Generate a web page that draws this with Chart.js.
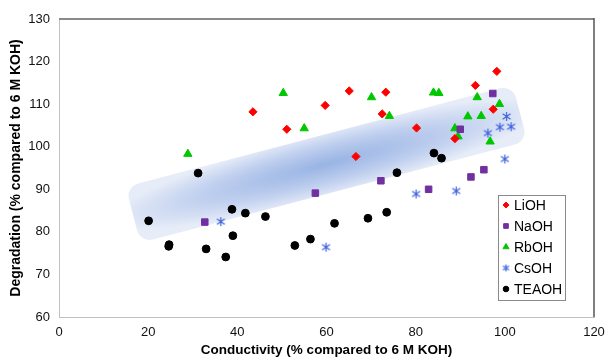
<!DOCTYPE html>
<html>
<head>
<meta charset="utf-8">
<script src="https://cdn.jsdelivr.net/npm/chart.js@4.4.1/dist/chart.umd.min.js"></script>
<style>
  html, body { margin: 0; padding: 0; background: #fff; }
  #wrap { width: 607px; height: 358px; }
</style>
</head>
<body>
<div id="wrap"><canvas id="c" width="607" height="358"></canvas></div>
<script>
/* ---- data ---- */
const liohX = [43.5, 51.1, 59.7, 65.1, 73.3, 72.5, 80.2, 66.6, 93.4, 98.2, 97.4, 88.8];
const liohY = [108.2, 104.1, 109.7, 113.1, 112.8, 107.7, 104.4, 97.7, 114.4, 117.7, 108.8, 101.9];

const naohX = [32.7, 57.5, 72.2, 82.9, 90.0, 92.4, 95.3, 97.3];
const naohY = [82.3, 89.1, 92.0, 90.0, 104.1, 92.9, 94.6, 112.5];

const rbohX = [28.9, 50.3, 55.0, 70.1, 74.1, 84.0, 85.2, 93.8, 98.8, 91.7, 94.7, 88.8, 89.5, 96.7];
const rbohY = [98.3, 112.6, 104.3, 111.6, 107.2, 112.7, 112.6, 111.6, 110.0, 107.1, 107.2, 104.3, 102.4, 101.2];

const csohX = [36.3, 59.9, 80.1, 89.1, 96.2, 98.9, 101.4, 100.4, 100.0];
const csohY = [82.4, 76.4, 88.9, 89.6, 103.2, 104.6, 104.7, 107.1, 97.1];

const teaohX = [20.1, 24.7, 24.6, 33.0, 31.2, 38.8, 41.8, 46.3, 39.0, 37.4, 52.9, 56.4, 61.8, 69.3, 73.5, 75.8, 84.1, 85.8];
const teaohY = [82.6, 77.0, 76.6, 76.0, 93.8, 85.3, 84.4, 83.6, 79.1, 74.1, 76.8, 78.3, 82.0, 83.2, 84.6, 93.9, 98.5, 97.3];

const seriesNames = ['LiOH', 'NaOH', 'RbOH', 'CsOH', 'TEAOH'];
const xTicks = [0, 20, 40, 60, 80, 100, 120];
const yTicks = [60, 70, 80, 90, 100, 110, 120, 130];

// shaded trend band: end points in data units
const bandStart = [16.6, 84.0];
const bandEnd = [103.4, 107.9];

const FONT = "'Liberation Sans', Arial, sans-serif";
const pts = (xs, ys) => xs.map((x, i) => ({ x, y: ys[i] }));

/* asterisk marker (X with a vertical bar) */
function asterisk(color, size) {
  const c = document.createElement('canvas');
  c.width = size; c.height = size;
  const g = c.getContext('2d');
  const m = size / 2, r = size / 2 - 1;
  g.strokeStyle = color;
  g.lineWidth = 1.2;
  g.beginPath();
  g.moveTo(m, m - r); g.lineTo(m, m + r);
  g.moveTo(m - r * 0.87, m - r * 0.6); g.lineTo(m + r * 0.87, m + r * 0.6);
  g.moveTo(m - r * 0.87, m + r * 0.6); g.lineTo(m + r * 0.87, m - r * 0.6);
  g.stroke();
  return c;
}
const csMark = asterisk('#3f63dc', 11);
const csMarkSmall = asterisk('#3f63dc', 9);

const styles = [
  { color: '#ff0000', pointStyle: 'rectRot', radius: 4.1 },
  { color: '#7030a0', pointStyle: 'rect', radius: 4.6 },
  { color: '#00c800', pointStyle: 'triangle', radius: 4.8 },
  { color: '#3f63dc', pointStyle: csMark, radius: 5 },
  { color: '#000000', pointStyle: 'circle', radius: 3.9 }
];

/* --- band behind the points --- */
const bandPlugin = {
  id: 'band',
  beforeDatasetsDraw(chart) {
    const { ctx, scales: { x, y } } = chart;
    const x1 = x.getPixelForValue(bandStart[0]), y1 = y.getPixelForValue(bandStart[1]);
    const x2 = x.getPixelForValue(bandEnd[0]), y2 = y.getPixelForValue(bandEnd[1]);
    const len = Math.hypot(x2 - x1, y2 - y1);
    const w = 58;
    ctx.save();
    ctx.translate((x1 + x2) / 2, (y1 + y2) / 2);
    ctx.rotate(Math.atan2(y2 - y1, x2 - x1));
    ctx.beginPath();
    ctx.roundRect(-len / 2, -w / 2, len, w, 13);
    ctx.scale(1, w / len);
    const g = ctx.createRadialGradient(0, 0, 0, 0, 0, len * 0.56);
    g.addColorStop(0, 'rgb(152,180,228)');
    g.addColorStop(0.55, 'rgb(190,206,238)');
    g.addColorStop(1, 'rgb(230,236,248)');
    ctx.fillStyle = g;
    ctx.fill();
    ctx.restore();
  }
};

/* --- top / right frame and legend box --- */
const framePlugin = {
  id: 'frame',
  afterDatasetsDraw(chart) {
    const { ctx, chartArea: a } = chart;
    ctx.save();
    ctx.strokeStyle = '#8a8a8a';
    ctx.lineWidth = 2;
    ctx.beginPath();
    ctx.moveTo(a.left, a.top); ctx.lineTo(a.right, a.top);
    ctx.stroke();
    ctx.strokeStyle = '#555';
    ctx.lineWidth = 1.5;
    ctx.beginPath();
    ctx.moveTo(a.right, a.top - 1); ctx.lineTo(a.right, a.bottom);
    ctx.stroke();

    // legend
    const lx = a.right - 96, ly = a.top + 176;
    ctx.fillStyle = '#fff';
    ctx.fillRect(lx, ly, 67, 105);
    ctx.strokeStyle = '#8a8a8a';
    ctx.lineWidth = 1;
    ctx.strokeRect(lx + 0.5, ly + 0.5, 67, 105);
    ctx.font = '14px ' + FONT;
    ctx.textBaseline = 'middle';
    seriesNames.forEach((name, i) => {
      const cy = ly + 10 + i * 21;
      const st = styles[i];
      ctx.fillStyle = st.color;
      ctx.strokeStyle = st.color;
      const ps = i === 3 ? csMarkSmall : st.pointStyle;
      Chart.helpers.drawPoint(ctx, { pointStyle: ps, radius: st.radius * 0.72, rotation: 0, borderWidth: 1 }, lx + 8, cy);
      ctx.fillStyle = '#000';
      ctx.fillText(name, lx + 16, cy + 1);
    });
    ctx.restore();
  }
};

const allX = [liohX, naohX, rbohX, csohX, teaohX];
const allY = [liohY, naohY, rbohY, csohY, teaohY];

new Chart(document.getElementById('c'), {
  type: 'scatter',
  data: {
    datasets: seriesNames.map((name, i) => ({
      label: name,
      data: pts(allX[i], allY[i]),
      pointStyle: styles[i].pointStyle,
      pointRadius: styles[i].radius,
      pointBackgroundColor: styles[i].color,
      pointBorderColor: styles[i].color,
      pointBorderWidth: 1
    }))
  },
  options: {
    responsive: false,
    animation: false,
    devicePixelRatio: 1,
    layout: { padding: { top: 19, right: 13, left: 0, bottom: 0 } },
    plugins: { legend: { display: false }, tooltip: { enabled: false } },
    scales: {
      x: {
        type: 'linear',
        min: 0, max: 120,
        afterBuildTicks: s => { s.ticks = xTicks.map(v => ({ value: v })); },
        afterFit: s => { s.height = 41; s.paddingLeft = 0; s.paddingRight = 0; },
        grid: { display: false, drawTicks: false },
        border: { display: true, color: '#c0c0c0', width: 1 },
        ticks: { color: '#111', font: { family: FONT, size: 13 }, padding: 8, maxRotation: 0 },
        title: {
          display: true,
          text: 'Conductivity (% compared to 6 M KOH)',
          color: '#000',
          font: { family: FONT, size: 13.5, weight: 'bold' },
          padding: { top: 0, bottom: 0 }
        }
      },
      y: {
        type: 'linear',
        min: 60, max: 130,
        afterBuildTicks: s => { s.ticks = yTicks.map(v => ({ value: v })); },
        afterFit: s => { s.width = 59; s.paddingTop = 0; s.paddingBottom = 0; },
        grid: { display: false, drawTicks: false },
        border: { display: true, color: '#c0c0c0', width: 1 },
        ticks: { color: '#111', font: { family: FONT, size: 13 }, padding: 9 },
        title: {
          display: true,
          text: 'Degradation (% compared to 6 M KOH)',
          color: '#000',
          font: { family: FONT, size: 14, weight: 'bold' },
          padding: { top: 8, bottom: 0 }
        }
      }
    }
  },
  plugins: [bandPlugin, framePlugin]
});
</script>
</body>
</html>
